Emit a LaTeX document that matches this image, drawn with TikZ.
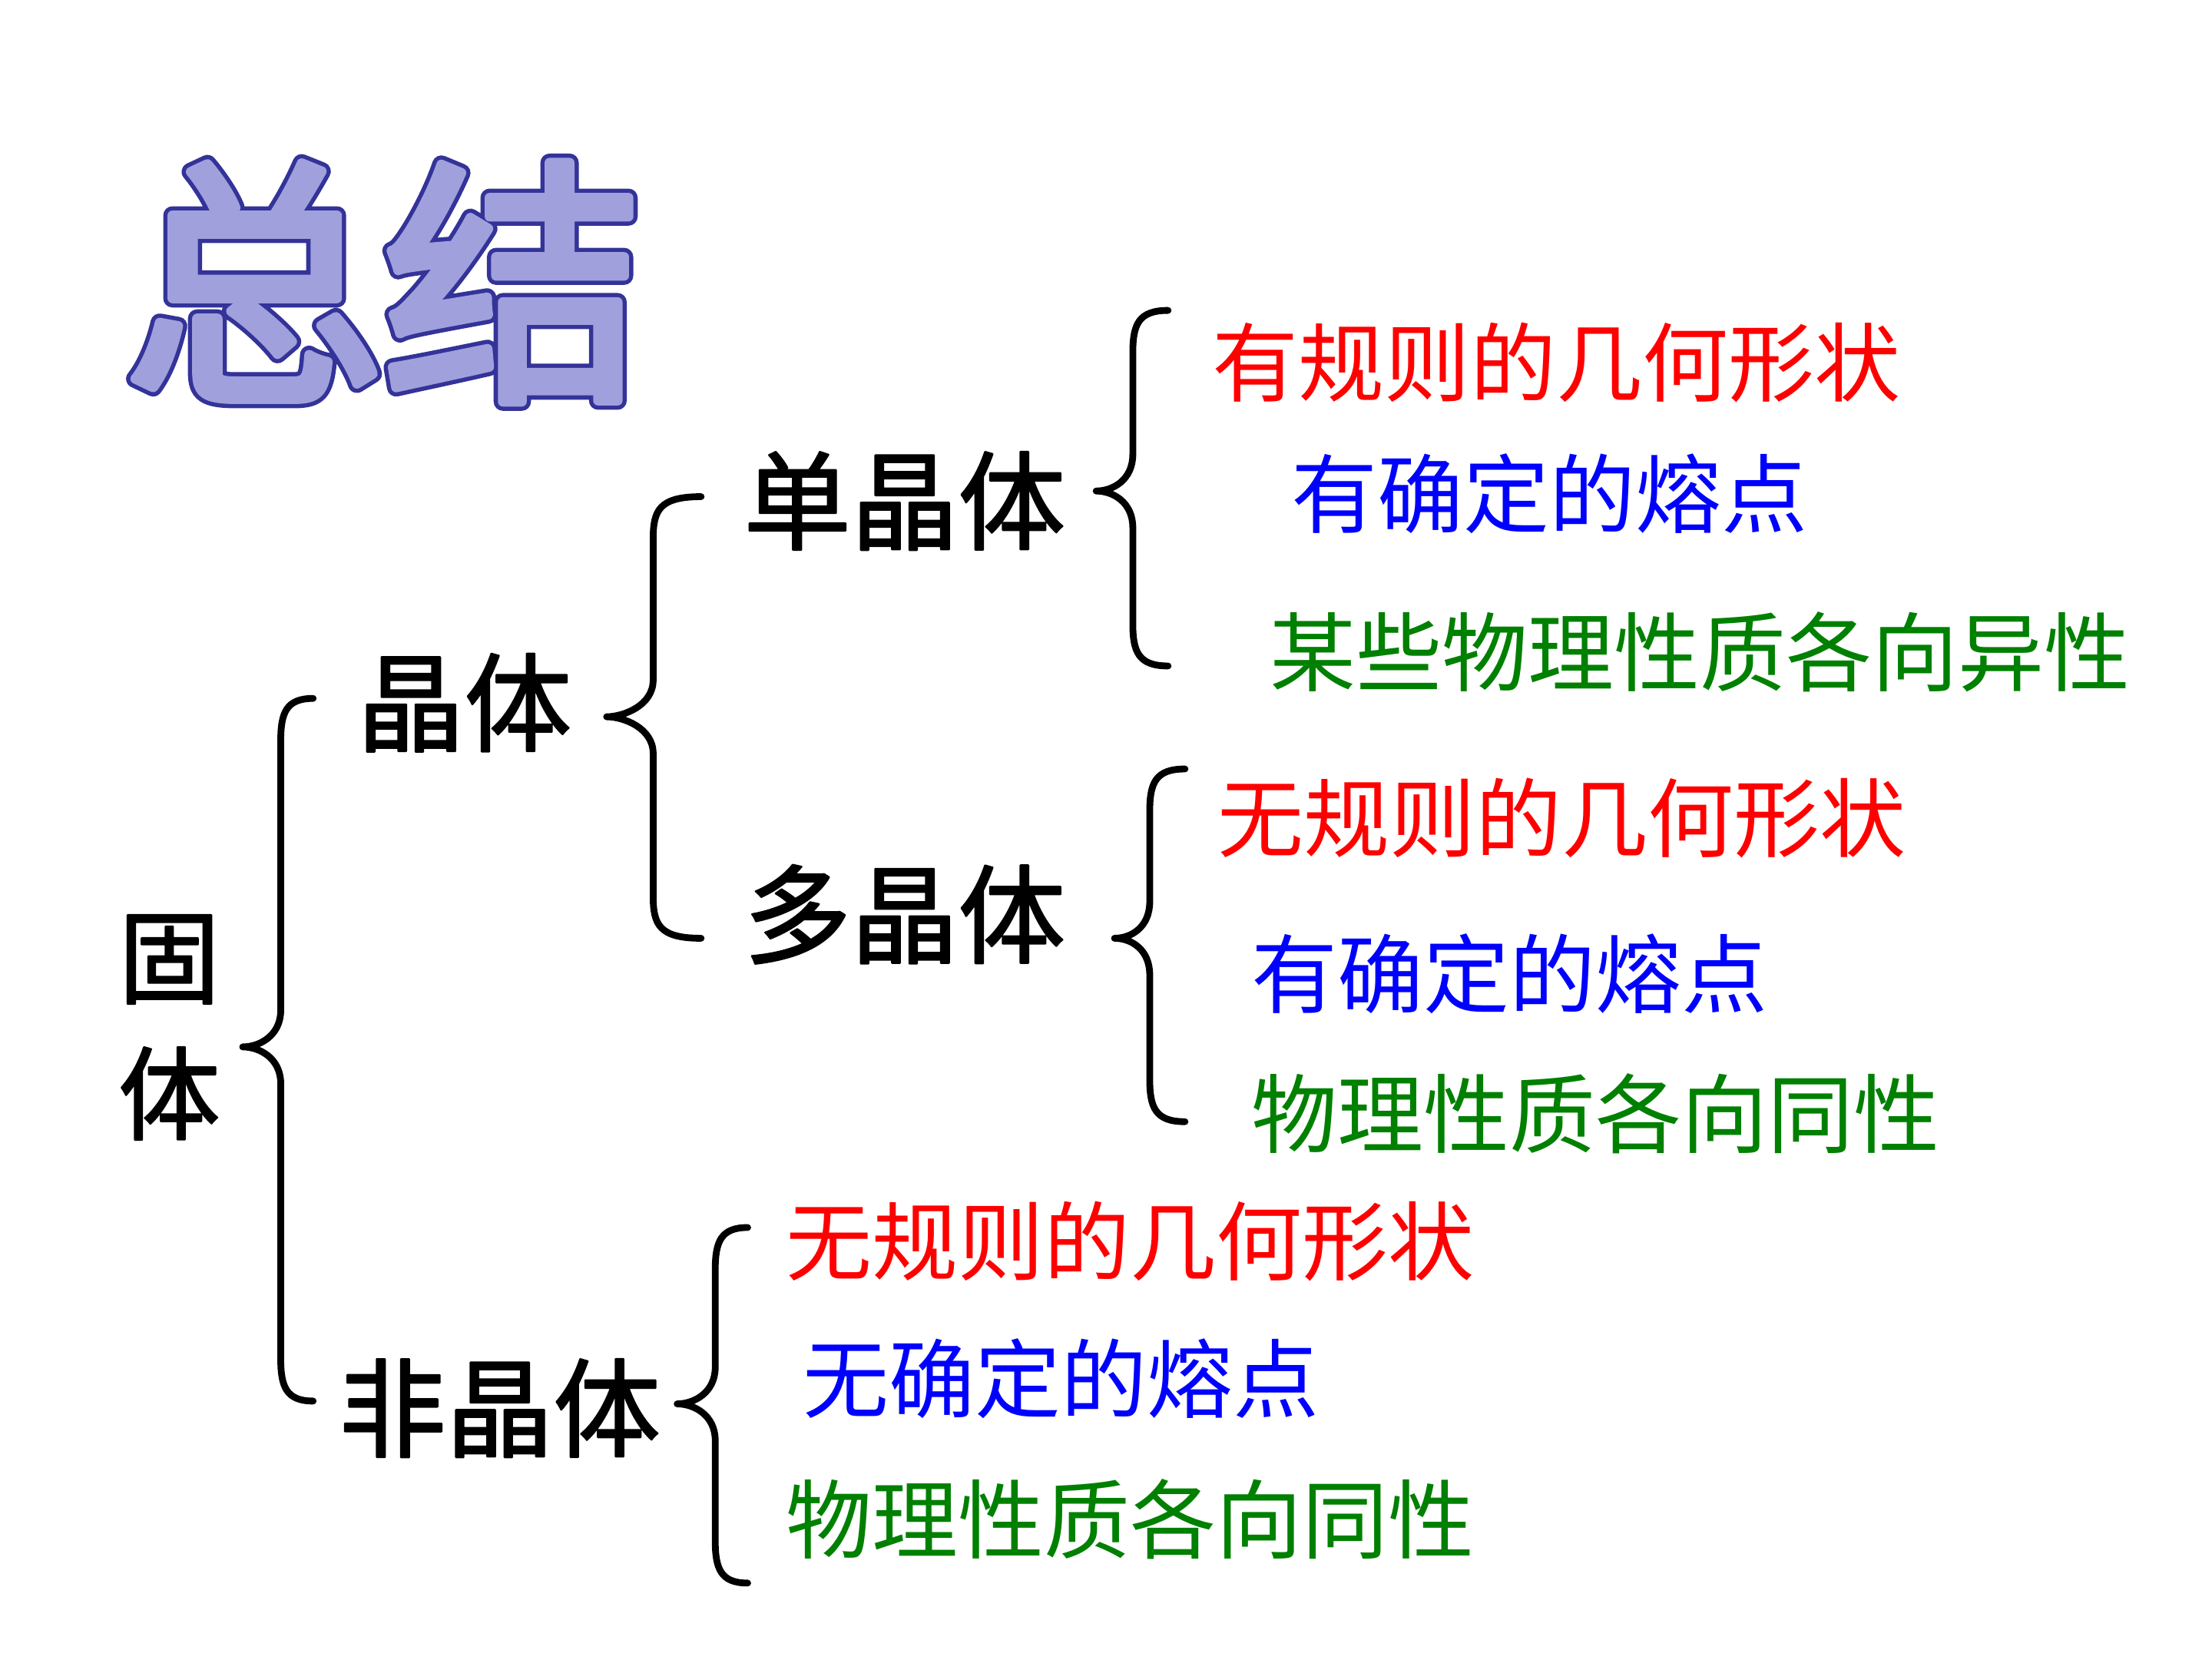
\documentclass[tikz,border=0pt]{standalone}
\usepackage{fontspec}
\newfontfamily\cjk{Noto Sans CJK SC}
\definecolor{tfill}{RGB}{160,160,220}
\definecolor{itred}{RGB}{255,0,0}
\definecolor{itblue}{RGB}{0,0,255}
\definecolor{itgreen}{RGB}{0,128,0}
\newcommand\outlined[1]{\rlap{\color{tfill}\special{pdf:literal direct 0.2 0.2 0.6 RG 13 w 1 j 2 Tr}#1\special{pdf:literal direct 0 Tr}}{\color{tfill}\special{pdf:literal direct 0.627 0.627 0.863 RG 7 w 1 j 2 Tr}#1\special{pdf:literal direct 0 Tr}}}
\newcommand\semib[1]{{\special{pdf:literal direct 0 0 0 RG 1.3 w 1 j 2 Tr}#1\special{pdf:literal direct 0 Tr}}}
\newcommand\mybrace[6]{% tip x, vertical x, end x, tip y, top y, bottom y
  \draw[brc] (#3,#5) .. controls (#2+4,#5) and (#2,#5+10) .. (#2,#5+30)
    -- (#2,#4-26) .. controls (#2,#4-8) and (#1+12,#4) .. (#1,#4)
    .. controls (#1+12,#4) and (#2,#4+8) .. (#2,#4+26)
    -- (#2,#6-30) .. controls (#2,#6-10) and (#2+4,#6) .. (#3,#6);}
\begin{document}
\begin{tikzpicture}[x=1pt,y=-1pt,
  brc/.style={line width=4.8pt, line cap=round, line join=round, black},
  ttl/.style={font=\cjk\fontsize{184}{190}\selectfont, inner sep=0pt},
  blk/.style={font=\cjk\fontsize{76}{80}\selectfont, inner sep=0pt, anchor=west, text=black},
  itm/.style={font=\cjk\fontsize{61}{64}\selectfont, inner sep=0pt, anchor=west},
  r/.style={itm, text=itred},
  b/.style={itm, text=itblue},
  g/.style={itm, text=itgreen}]
\useasboundingbox[fill=white] (0,0) rectangle (1568,1176);
% title with outline
\node[ttl] (title) at (272,200) {\outlined{总结}};
% left column
\node[font=\cjk\fontsize{72}{76}\selectfont, inner sep=0pt, text=black] (gu) at (120,680) {\semib{固}};
\node[font=\cjk\fontsize{72}{76}\selectfont, inner sep=0pt, text=black] (ti) at (120,775) {\semib{体}};
\mybrace{172}{199}{222}{742}{495}{993}
\node[blk] (jt) at (253,498) {\semib{晶体}};
\mybrace{430}{463}{497}{508}{352}{665}
\node[blk] (djt) at (527,355) {\semib{单晶体}};
\mybrace{777}{803}{828}{348}{220}{472}
\node[r] (d1) at (859,257) {有规则的几何形状};
\node[b] (d2) at (915,350) {有确定的熔点};
\node[g] (d3) at (900,462) {某些物理性质各向异性};
\node[blk] (duo) at (527,648) {\semib{多晶体}};
\mybrace{790}{815}{840}{665}{545}{795}
\node[r] (p1) at (863,580) {无规则的几何形状};
\node[b] (p2) at (887,690) {有确定的熔点};
\node[g] (p3) at (887,789) {物理性质各向同性};
\node[blk] (fjt) at (240,998) {\semib{非晶体}};
\mybrace{480}{507}{530}{995}{870}{1122}
\node[r] (a1) at (557,880) {无规则的几何形状};
\node[b] (a2) at (569,977) {无确定的熔点};
\node[g] (a3) at (557,1077) {物理性质各向同性};
\end{tikzpicture}
\end{document}
